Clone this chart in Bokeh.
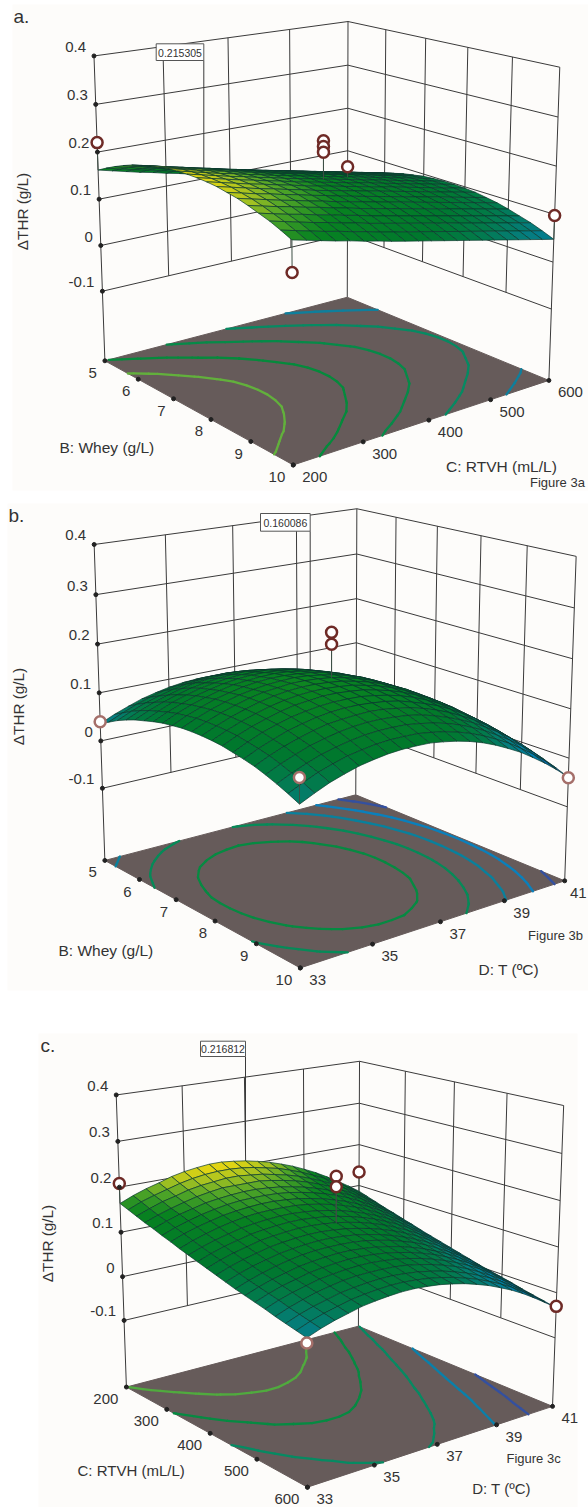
import numpy as np
from bokeh.embed import file_html
from bokeh.models import Range1d
from bokeh.plotting import figure
from bokeh.resources import INLINE
from bokeh.core.properties import value

# ---- values ----
z_ticks = [0.4, 0.3, 0.2, 0.1, 0.0, -0.1]
z_labels = ["0.4", "0.3", "0.2", "0.1", "0", "-0.1"]
floor_z = -0.255
whey_ticks = [5, 6, 7, 8, 9, 10]
rtvh_ticks = [200, 300, 400, 500, 600]
temp_ticks = [33, 35, 37, 39, 41]

# response surface estimates in mg/L: rows = first factor low->high, cols = second factor low->high
surface_a = [
 [162,155,148,141,135,128,122,115,109,103,97,91,85,79,73,67,61,55,49,43,37],
 [173,166,159,153,146,140,133,127,120,114,108,102,96,90,84,78,72,66,60,54,48],
 [183,176,169,163,156,150,143,137,130,124,118,112,106,100,94,88,82,76,70,64,58],
 [192,185,178,171,165,158,152,145,139,133,127,121,115,109,103,97,91,85,79,73,67],
 [200,193,186,179,173,166,160,153,147,141,135,129,123,117,111,105,99,93,87,81,75],
 [206,199,192,186,179,173,166,160,153,147,141,135,129,123,117,111,105,99,93,87,81],
 [212,205,198,191,185,178,172,165,159,153,147,141,135,129,123,117,111,105,99,93,87],
 [216,209,202,196,189,183,176,170,163,157,151,145,139,133,127,121,115,109,103,97,91],
 [220,213,206,199,193,186,180,173,167,161,155,149,143,137,131,125,119,113,107,101,95],
 [222,215,208,201,195,188,182,175,169,163,157,151,145,139,133,127,121,115,109,103,97],
 [223,216,209,202,196,189,183,176,170,164,158,152,146,140,134,128,122,116,110,104,98],
 [223,216,209,202,196,189,183,176,170,164,158,152,146,140,134,128,122,116,110,104,98],
 [222,215,208,201,195,188,182,175,169,163,157,151,145,139,133,127,121,115,109,103,97],
 [220,213,206,199,193,186,180,173,167,161,155,149,143,137,131,125,119,113,107,101,95],
 [216,209,202,196,189,183,176,170,163,157,151,145,139,133,127,121,115,109,103,97,91],
 [212,205,198,191,185,178,172,165,159,153,147,141,135,129,123,117,111,105,99,93,87],
 [206,199,192,186,179,173,166,160,153,147,141,135,129,123,117,111,105,99,93,87,81],
 [199,192,185,179,172,166,159,153,146,140,134,128,122,116,110,104,98,92,86,80,74],
 [192,185,178,171,165,158,152,145,139,133,127,121,115,109,103,97,91,85,79,73,67],
 [183,176,169,162,156,149,143,136,130,124,118,112,106,100,94,88,82,76,70,64,58],
 [173,166,159,152,146,139,133,126,120,114,108,102,96,90,84,78,72,66,60,54,48]]
surface_b = [
 [36,49,60,70,77,83,87,89,89,87,84,79,71,62,51,39,24,8,-10,-31,-52],
 [47,60,72,81,89,94,98,100,100,99,95,90,83,74,63,50,36,19,1,-19,-41],
 [58,71,82,91,99,104,108,110,111,109,105,100,93,84,73,60,46,29,11,-9,-31],
 [67,80,91,100,108,114,117,119,120,118,114,109,102,93,82,69,55,38,20,0,-22],
 [75,88,99,108,116,121,125,127,128,126,122,117,110,101,90,77,63,46,28,8,-14],
 [81,94,106,115,123,128,132,134,134,133,129,124,117,108,97,84,70,53,35,15,-7],
 [87,100,111,121,128,134,138,140,140,138,135,130,122,113,103,90,75,59,41,21,-1],
 [92,105,116,125,133,139,142,144,145,143,139,134,127,118,107,94,80,63,45,25,3],
 [95,108,119,129,136,142,146,148,148,146,143,138,130,121,111,98,83,67,49,29,7],
 [98,111,122,131,139,144,148,150,151,149,145,140,133,124,113,100,86,69,51,31,9],
 [99,112,123,132,140,146,149,152,152,150,147,141,134,125,114,101,87,71,52,32,10],
 [99,112,123,132,140,146,150,152,152,150,147,141,134,125,114,102,87,71,52,32,10],
 [98,111,122,131,139,145,149,151,151,149,146,140,133,124,113,100,86,70,51,31,9],
 [96,109,120,129,137,143,146,149,149,147,144,138,131,122,111,98,84,68,49,29,7],
 [92,105,117,126,134,139,143,145,145,144,140,135,128,119,108,95,81,64,46,26,4],
 [88,101,112,122,129,135,139,141,141,139,136,131,123,114,104,91,76,60,42,22,0],
 [83,96,107,116,124,130,133,135,136,134,130,125,118,109,98,85,71,54,36,16,-6],
 [76,89,100,110,117,123,127,129,129,127,124,119,111,102,91,79,64,48,30,10,-12],
 [68,81,92,102,109,115,119,121,121,120,116,111,104,95,84,71,56,40,22,2,-20],
 [59,72,84,93,101,106,110,112,112,111,107,102,95,86,75,62,48,31,13,-7,-29],
 [49,62,74,83,91,96,100,102,102,101,97,92,85,76,65,52,38,21,3,-17,-39]]
surface_c = [
 [164,176,186,194,203,209,213,216,216,213,209,203,196,187,177,165,152,137,121,104,86],
 [157,169,178,186,194,200,204,206,206,204,200,194,188,179,169,157,145,130,114,97,79],
 [150,161,171,178,186,191,194,197,197,194,191,185,179,171,161,150,137,123,107,90,72],
 [143,154,163,171,178,183,187,187,187,187,183,178,172,164,154,143,130,116,101,84,65],
 [137,148,157,164,171,175,178,180,180,178,175,170,164,156,147,136,124,110,94,77,59],
 [130,141,150,158,164,169,172,173,173,172,169,164,158,150,141,130,117,103,88,71,52],
 [124,135,144,151,158,162,165,167,167,165,162,157,151,143,134,123,111,97,81,64,46],
 [117,128,137,145,151,156,159,160,160,159,156,151,145,137,128,117,104,90,75,58,39],
 [111,122,131,138,145,149,152,154,154,152,149,144,138,130,121,110,98,84,68,51,33],
 [105,116,125,132,139,143,146,148,148,146,143,138,132,124,115,104,92,78,62,45,27],
 [99,110,119,126,133,137,140,142,142,140,137,132,126,118,109,98,86,72,56,39,21],
 [93,104,113,120,127,131,134,136,136,134,131,126,120,112,103,92,80,66,50,33,15],
 [87,98,107,114,121,125,128,130,130,128,125,120,114,106,97,86,74,60,44,27,9],
 [81,92,101,109,115,120,123,124,124,123,120,115,109,101,92,81,68,54,39,22,3],
 [76,87,96,103,110,114,117,119,119,117,114,109,103,95,86,75,63,49,33,16,-2],
 [71,82,91,98,105,109,112,114,114,112,109,104,98,90,81,70,58,44,28,11,-7],
 [66,77,86,93,100,104,107,109,109,107,104,99,93,85,76,65,53,39,23,6,-12],
 [60,71,80,88,94,99,102,103,103,102,99,94,88,80,71,60,47,33,18,1,-18],
 [55,66,75,82,89,93,96,98,98,96,93,88,82,74,65,54,42,28,12,-5,-23],
 [50,61,70,77,84,88,91,93,93,91,88,83,77,69,60,49,37,23,7,-10,-28],
 [45,56,65,72,79,83,86,88,88,86,83,78,72,64,55,44,32,18,2,-15,-33]]

contour_levels_a = [70, 100, 130, 160, 190]
contour_levels_b = [-20, 15, 50, 85, 120]
contour_levels_c = [5, 45, 85, 125, 165]

# design points: first factor, second factor, response in g/L
points_a_whey = [5, 7.5, 7.5, 7.5, 5, 10, 10]
points_a_rtvh = [200, 400, 400, 400, 600, 600, 200]
points_a_thr = [.22, .238, .226, .214, .062, .098, .113]
points_b_whey = [5, 7.5, 7.5, 10, 10]
points_b_temp = [33, 37, 37, 33, 41]
points_b_thr = [.04, .238, .214, .097, -.04]
points_c_rtvh = [200, 400, 400, 200, 600, 600]
points_c_temp = [33, 37, 37, 41, 33, 41]
points_c_thr = [.208, .238, .215, .133, .035, -.03]

# ---- colours ----
PLANE = "#665b5a"
GRID = "#3a3a3a"
TEXT = "#333333"
RING = "#6e2a26"
RING_PALE = "#a56f6a"
contour_colors_a = ["#0f7f9c", "#068a62", "#068a48", "#058a3c", "#62b03c"]
contour_colors_b = ["#34509f", "#0a80bc", "#0a809c", "#068a58", "#068a42"]
contour_colors_c = ["#34509f", "#0a80aa", "#068a62", "#068a42", "#50aa3e"]
ramp_z = [-.05, -.02, .015, .05, .075, .10, .15, .175, .19, .205, .23]
ramp_rgb = [(30, 60, 160), (10, 80, 168), (0, 125, 178), (5, 125, 125), (2, 122, 72), (0, 120, 45),
            (8, 130, 32), (80, 165, 40), (160, 192, 34), (224, 212, 20), (240, 220, 20)]


def ramp(z):
    return "#%02x%02x%02x" % tuple(int(round(np.interp(z, ramp_z, [c[i] for c in ramp_rgb]))) for i in range(3))


def camera(L, B, R, F):
    rows, rhs = [], []
    pts = []
    for u, v, c in [(0, 0, L), (0, 1, B), (1, 1, R)]:
        pts += [(u, v, .4, c[0]), (u, v, -.1, c[1]), (u, v, floor_z, c[2])]
    pts.append((1, 0, floor_z, F))
    for u, v, z, (x, y) in pts:
        rows.append([u, v, z, 1, 0, 0, 0, 0, -x*u, -x*v, -x*z]); rhs.append(x)
        rows.append([0, 0, 0, 0, u, v, z, 1, -y*u, -y*v, -y*z]); rhs.append(y)
    m = np.linalg.lstsq(np.array(rows, float), np.array(rhs, float), rcond=None)[0]

    def project(u, v, z):
        u, v, z = np.asarray(u, float), np.asarray(v, float), np.asarray(z, float)
        w = m[8]*u + m[9]*v + m[10]*z + 1
        return (m[0]*u + m[1]*v + m[2]*z + m[3])/w, (m[4]*u + m[5]*v + m[6]*z + m[7])/w
    return project


p = figure(width=588, height=1507, x_range=Range1d(0, 588), y_range=Range1d(1507, 0),
           output_backend="svg", toolbar_location=None, min_border=0,
           x_axis_location=None, y_axis_location=None, background_fill_color="white")
p.grid.visible = False
p.outline_line_color = None
FONT = value("Liberation Sans")


def label(x, y, s, size=15, align="left", angle=0, color=TEXT):
    p.text([x], [y], text=[s], text_font=FONT, text_font_size=f"{size}px", text_color=color,
           text_align=align, text_baseline="middle", angle=angle)


def contour_segments(zg, level):
    n, m = zg.shape
    su, sv = [], []
    for i in range(n-1):
        for j in range(m-1):
            c = [(i, j), (i+1, j), (i+1, j+1), (i, j+1)]
            hits = []
            for k in range(4):
                a, b = c[k], c[(k+1) % 4]
                za, zb = zg[a], zg[b]
                if (za >= level) != (zb >= level):
                    f = (level - za)/(zb - za)
                    hits.append(((a[0] + f*(b[0]-a[0]))/(n-1), (a[1] + f*(b[1]-a[1]))/(m-1)))
            if len(hits) == 2:
                su.append([hits[0][0], hits[1][0]])
                sv.append([hits[0][1], hits[1][1]])
    return su, sv


def panel(cam, surface, levels, colors, uticks, vticks, ptu, ptv, ptz, pale, flag, shift):
    grid_mg = np.array(surface, float)
    zg = grid_mg/1000
    n, m = zg.shape
    P = camera(*cam)
    uu = [(t-uticks[0])/(uticks[-1]-uticks[0]) for t in uticks]
    vv = [(t-vticks[0])/(vticks[-1]-vticks[0]) for t in vticks]
    # walls
    for z in z_ticks:
        x, y = P([0, 0, 1], [0, 1, 1], [z, z, z])
        p.line(x, y, line_color=GRID, line_width=1)
    for v in vv[1:-1]:
        x, y = P([0, 0], [v, v], [.4, -.1])
        p.line(x, y, line_color=GRID, line_width=1)
    for u in uu[1:-1]:
        x, y = P([u, u], [1, 1], [.4, -.1])
        p.line(x, y, line_color=GRID, line_width=1)
    for u, v in [(0, 0), (0, 1), (1, 1)]:
        x, y = P([u, u], [v, v], [.4, floor_z])
        p.line(x, y, line_color=GRID, line_width=1)
    # floor with contours
    x, y = P([0, 1, 1, 0], [0, 0, 1, 1], [floor_z]*4)
    p.patch(x, y, fill_color=PLANE, line_color=PLANE)
    for lev, col in zip(levels, colors):
        su, sv = contour_segments(grid_mg, lev)
        xs, ys = [], []
        for a, b in zip(su, sv):
            x, y = P(a, b, [floor_z, floor_z])
            xs.append(list(x)); ys.append(list(y))
        p.multi_line(xs, ys, line_color=col, line_width=2.3, line_cap="round")
    # flag and its leader, behind the surface
    bx0, bx1, by0, by1, yend, ftext = flag
    p.line([bx1, bx1], [by1, yend], line_color=GRID, line_width=1)
    p.quad(left=[bx0], right=[bx1], top=[by0], bottom=[by1], fill_color="white", line_color="#555555", line_width=1)
    label((bx0+bx1)/2, (by0+by1)/2+.5, ftext, size=10.5, align="center")
    # surface, far cells first
    cells = sorted(((i, j) for i in range(n-1) for j in range(m-1)),
                   key=lambda c: (c[1]-c[0]), reverse=True)
    xs, ys, fc = [], [], []
    for i, j in cells:
        us = np.array([i, i+1, i+1, i])/(n-1)
        vs = np.array([j, j, j+1, j+1])/(m-1)
        zs = np.array([zg[i, j], zg[i+1, j], zg[i+1, j+1], zg[i, j+1]])
        x, y = P(us, vs, zs)
        xs.append(list(x)); ys.append(list(y)); fc.append(ramp(zs.mean()-shift))
    p.patches(xs, ys, fill_color=fc, line_color="#0b3a2e", line_width=.7)
    # design points
    for u0, v0, z0 in zip(ptu, ptv, ptz):
        u = (u0-uticks[0])/(uticks[-1]-uticks[0])
        v = (v0-vticks[0])/(vticks[-1]-vticks[0])
        i, j = int(round(u*(n-1))), int(round(v*(m-1)))
        x, y = P([u, u], [v, v], [z0, zg[i, j]])
        p.line(x, y, line_color="#3d4f45", line_width=1)
    for u0, v0, z0, pl in zip(ptu, ptv, ptz, pale):
        u = (u0-uticks[0])/(uticks[-1]-uticks[0])
        v = (v0-vticks[0])/(vticks[-1]-vticks[0])
        x, y = P(u, v, z0)
        p.scatter([float(x)], [float(y)], marker="circle", size=11, fill_color="white",
                  line_color=RING_PALE if pl else RING, line_width=2.5)
    # ticks
    x, y = P([0]*len(z_ticks), [0]*len(z_ticks), z_ticks)
    p.scatter(x, y, size=4, color="#222222")
    for xi, yi, s in zip(x, y, z_labels):
        label(xi-8, yi-9, s, align="right")
    x, y = P(uu, [0]*len(uu), [floor_z]*len(uu))
    p.scatter(x, y, size=4, color="#222222")
    for xi, yi, s in zip(x, y, uticks):
        label(xi-8, yi+12, str(s), align="right")
    x, y = P([1]*len(vv), vv, [floor_z]*len(vv))
    p.scatter(x, y, size=4, color="#222222")
    for xi, yi, s in zip(x, y, vticks):
        label(min(xi+9, 569.5), yi+12, str(s), align="left")


for bx in [(12, 588, 4, 490), (7, 588, 503, 990), (38, 577, 1033, 1507)]:
    p.quad(left=[bx[0]], right=[bx[1]], top=[bx[2]], bottom=[bx[3]], fill_color="#fdfcfa", line_color=None)

view_a = (((93, 56), (102, 288.3), (105, 361.7)), ((347, 21), (347, 232.5), (347, 298.3)),
          ((560.3, 67.7), (551, 306), (547.5, 381)), (292.5, 465))
view_b = (((92.7, 545), (102, 785), (105, 861)), ((356.3, 508.3), (356, 727), (355, 796.7)),
          ((576.7, 556.7), (566.2, 803.3), (563.6, 881.7)), (300, 968.3))
view_c = (((115, 1095), (123.7, 1317.7), (126.7, 1387.7)), ((359, 1060.7), (358.5, 1264), (357.4, 1327.3)),
          ((563.7, 1106), (555, 1335), (551.3, 1406.7)), (306.7, 1487.3))

panel(view_a, surface_a, contour_levels_a, contour_colors_a, whey_ticks, rtvh_ticks,
      points_a_whey, points_a_rtvh, points_a_thr, [0]*7, (155.7, 203.3, 43.3, 60, 170, "0.215305"), .015)
panel(view_b, surface_b, contour_levels_b, contour_colors_b, whey_ticks, temp_ticks,
      points_b_whey, points_b_temp, points_b_thr, [1, 0, 0, 1, 1], (260, 309.7, 513, 530.7, 672, "0.160086"), 0)
panel(view_c, surface_c, contour_levels_c, contour_colors_c, rtvh_ticks, temp_ticks,
      points_c_rtvh, points_c_temp, points_c_thr, [0, 0, 0, 0, 1, 0], (200, 245, 1040.7, 1056, 1155, "0.216812"), .005)

label(13, 16, "a.", size=19)
label(8, 515, "b.", size=19)
label(40, 1045, "c.", size=19)
for x, y in [(22, 211), (18.3, 706), (46.7, 1243)]:
    label(x, y, "\u0394THR (g/L)", align="center", angle=np.pi/2, size=15.3)
label(59, 447, "B: Whey (g/L)", size=15.5)
label(445.5, 466, "C: RTVH (mL/L)", size=15.5)
label(529.5, 481.7, "Figure 3a", size=13)
label(58, 950, "B: Whey (g/L)", size=15.5)
label(478, 969, "D: T (\u00baC)", size=15.5)
label(527.6, 935, "Figure 3b", size=13)
label(77, 1470, "C: RTVH (mL/L)", size=15)
label(471.7, 1488.3, "D: T (\u00baC)", size=15)
label(506, 1458.3, "Figure 3c", size=13)

open("out.html", "w").write(file_html(p, INLINE))
